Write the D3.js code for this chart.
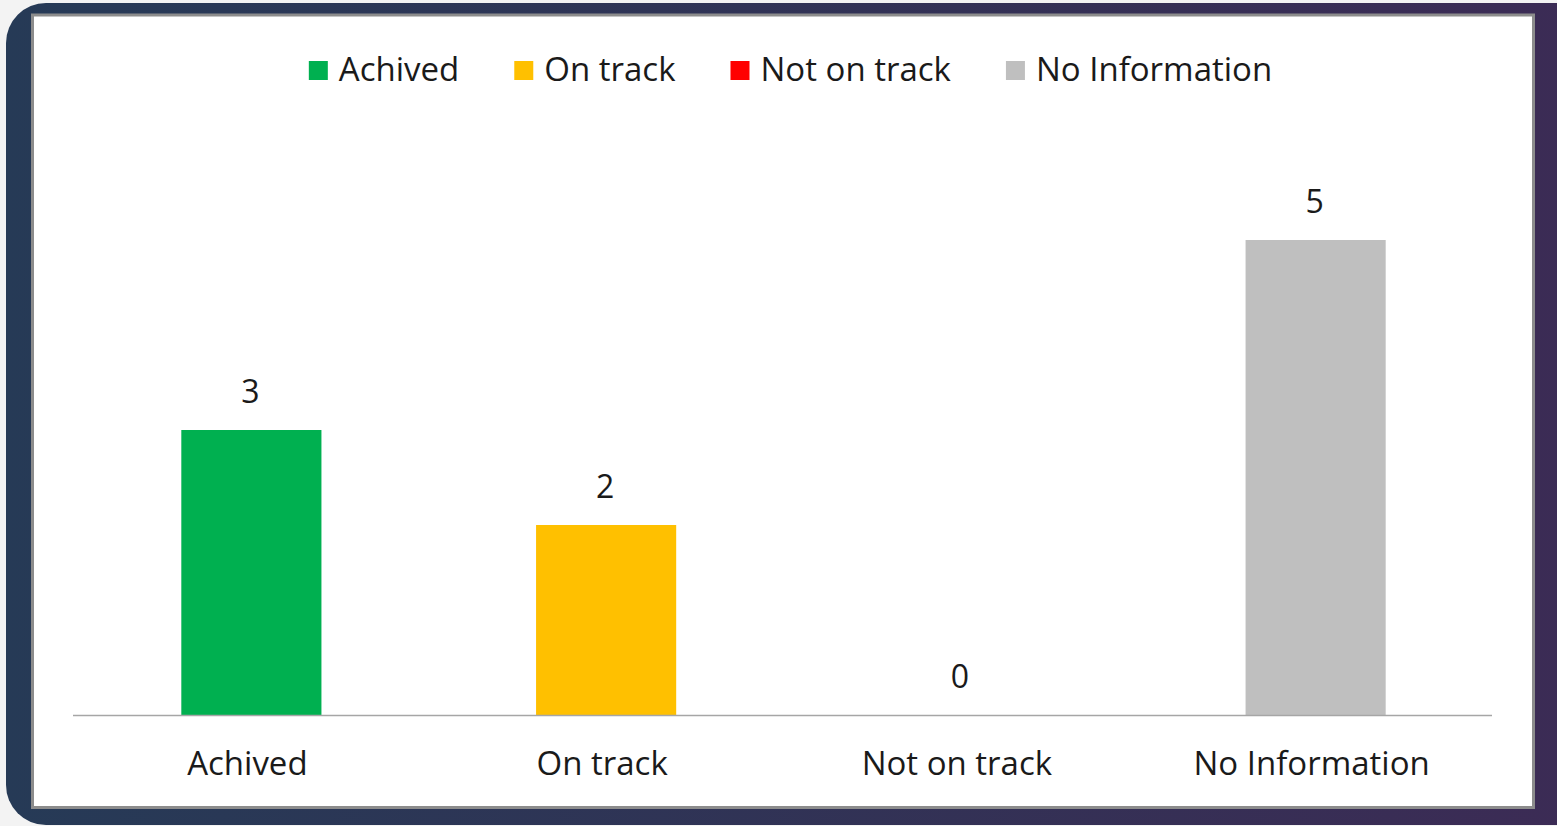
<!DOCTYPE html>
<html>
<head>
<meta charset="utf-8">
<script src="https://cdn.jsdelivr.net/npm/d3@7"></script>
<style>
  html, body { margin: 0; padding: 0; background: #f3f3f3; }
  svg { display: block; }
  text { font-family: "Open Sans", Lato, sans-serif; fill: #1a1a1a; }
</style>
</head>
<body>
<div id="chart"></div>
<script>
// chart data
var categories = ["Achived", "On track", "Not on track", "No Information"];
var values = [3, 2, 0, 5];
var colors = ["#00b050", "#ffc000", "#ff0000", "#bfbfbf"];

var width = 1557,
  height = 826;

var svg = d3.select("#chart").append("svg")
  .attr("width", width)
  .attr("height", height);

//card gradient
var defs = svg.append("defs");
var grad = defs.append("linearGradient")
  .attr("id", "card")
  .attr("x1", "0%").attr("x2", "100%")
  .attr("y1", "0%").attr("y2", "0%");
grad.append("stop").attr("offset", "0%").attr("stop-color", "#263a56");
grad.append("stop").attr("offset", "100%").attr("stop-color", "#3c2b55");

svg.append("rect")
  .attr("x", 6).attr("y", 3)
  .attr("width", 1600).attr("height", 822)
  .attr("rx", 40)
  .attr("fill", "url(#card)");

//white chart area with gray frame
svg.append("rect")
  .attr("x", 32.5).attr("y", 15)
  .attr("width", 1501).attr("height", 792.5)
  .attr("fill", "#ffffff")
  .attr("stroke", "#8c8c8c")
  .attr("stroke-width", 3);

var plot = { left: 73, right: 1492, baseline: 715 };

var x = d3.scaleBand()
  .domain(categories)
  .range([plot.left, plot.right])
  .padding(0);

var y = d3.scaleLinear()
  .domain([0, 5])
  .range([plot.baseline, plot.baseline - 475]);

var barW = x.bandwidth() * 0.395;

//bars
svg.selectAll("rect.bar")
  .data(values)
  .enter().append("rect")
  .attr("class", "bar")
  .attr("x", function(d, i) { return x(categories[i]) + x.bandwidth() / 2 - barW / 2 + 1; })
  .attr("y", function(d) { return y(d); })
  .attr("width", barW)
  .attr("height", function(d) { return y(0) - y(d); })
  .attr("fill", function(d, i) { return colors[i]; });

//axis line
svg.append("line")
  .attr("x1", plot.left).attr("x2", plot.right)
  .attr("y1", plot.baseline + 0.5).attr("y2", plot.baseline + 0.5)
  .attr("stroke", "#a6a6a6")
  .attr("stroke-width", 1.5);

//value labels
svg.selectAll("text.val")
  .data(values)
  .enter().append("text")
  .attr("class", "val")
  .attr("x", function(d, i) { return x(categories[i]) + x.bandwidth() / 2; })
  .attr("y", function(d) { return y(d) - 27; })
  .attr("text-anchor", "middle")
  .style("font-size", "32px")
  .text(function(d) { return d; });

//category labels (slightly left of band centre, as in the source)
svg.selectAll("text.cat")
  .data(categories)
  .enter().append("text")
  .attr("class", "cat")
  .attr("x", function(d) { return x(d) + x.bandwidth() / 2 - 3; })
  .attr("y", 775)
  .attr("text-anchor", "middle")
  .style("font-size", "33px")
  .text(function(d) { return d; });

//legend, centered
var legend = svg.append("g");
var lx = 0;
categories.forEach(function(c, i) {
  var g = legend.append("g").attr("transform", "translate(" + lx + ",0)");
  g.append("rect")
    .attr("x", 0).attr("y", 61)
    .attr("width", 19).attr("height", 19)
    .attr("fill", colors[i]);
  var t = g.append("text")
    .attr("x", 30).attr("y", 81)
    .style("font-size", "33px")
    .text(c);
  lx += 30 + t.node().getComputedTextLength() + 55;
});
var legendW = lx - 55;
legend.attr("transform", "translate(" + (790.5 - legendW / 2) + ",0)");
</script>
</body>
</html>
